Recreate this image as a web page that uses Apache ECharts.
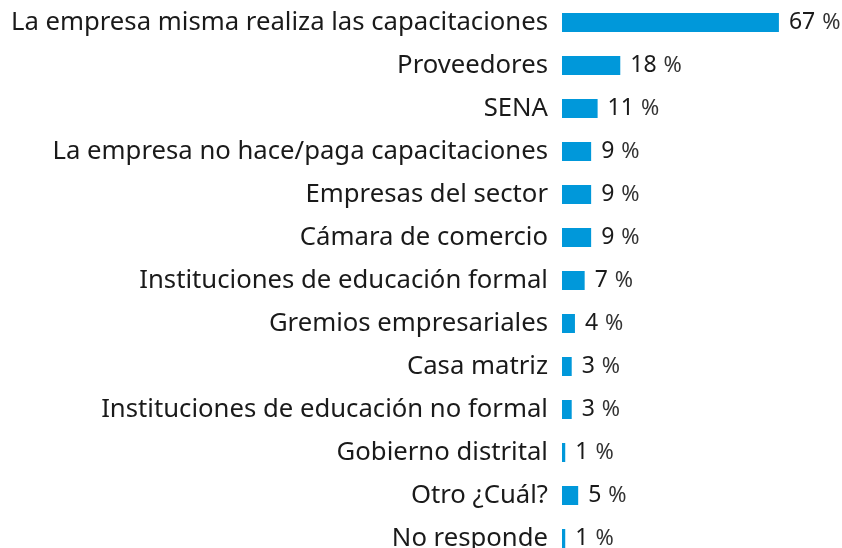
<!DOCTYPE html>
<html>
<head>
<meta charset="utf-8">
<script src="https://cdn.jsdelivr.net/npm/echarts@6/dist/echarts.min.js"></script>
<style>
  html, body { margin: 0; padding: 0; background: #fff; }
  #chart { width: 842px; height: 548px; }
</style>
</head>
<body>
<div id="chart"></div>
<script>
// categorías, de arriba hacia abajo
const categories = [
  'La empresa misma realiza las capacitaciones',
  'Proveedores',
  'SENA',
  'La empresa no hace/paga capacitaciones',
  'Empresas del sector',
  'Cámara de comercio',
  'Instituciones de educación formal',
  'Gremios empresariales',
  'Casa matriz',
  'Instituciones de educación no formal',
  'Gobierno distrital',
  'Otro ¿Cuál?',
  'No responde'
];
const values = [67, 18, 11, 9, 9, 9, 7, 4, 3, 3, 1, 5, 1];

const chart = echarts.init(document.getElementById('chart'));
const option = {
  animation: false,
  textStyle: { fontFamily: 'Noto Sans' },
  grid: { left: 562, right: 21, top: 1, height: 559, outerBoundsMode: 'none', containLabel: false },
  xAxis: {
    type: 'value',
    min: 0,
    max: 80,
    show: false
  },
  yAxis: {
    type: 'category',
    inverse: true,
    data: categories,
    axisLine: { show: false },
    axisTick: { show: false },
    axisLabel: {
      margin: 14,
      fontSize: 25.7,
      color: '#1a1a1a'
    }
  },
  series: [
    {
      type: 'bar',
      data: values,
      barWidth: 19,
      itemStyle: { color: '#0098da' },
      label: {
        show: true,
        position: 'right',
        distance: 10,
        formatter: '{v|{c}}{p|%}',
        rich: {
          v: { fontSize: 23, color: '#1a1a1a' },
          p: { fontSize: 22, color: '#333', padding: [0, 0, 0, 7] }
        }
      }
    }
  ]
};
chart.setOption(option);
</script>
</body>
</html>
